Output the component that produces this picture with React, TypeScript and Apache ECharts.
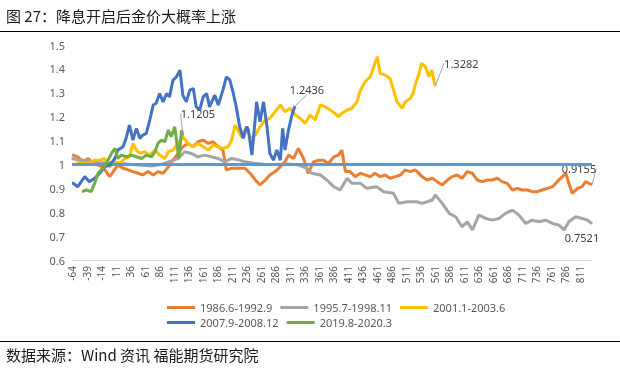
import React, { useEffect, useRef } from "react";
import * as echarts from "echarts";

const titleText = "图 27：降息开启后金价大概率上涨";
const sourceText = "数据来源：Wind 资讯 福能期货研究院";

const dayStart = -64;
const dayEnd = 832;
const categories: string[] = [];
for (let d = dayStart; d <= dayEnd; d++) categories.push(String(d));

const seriesNames = ["1986.6-1992.9", "1995.7-1998.11", "2001.1-2003.6", "2007.9-2008.12", "2019.8-2020.3"];
const seriesColors = ["#ED7D31", "#A5A5A5", "#FFC000", "#4472C4", "#70AD47"];

const orange8692: [number, number][] = [
  [-64, 1.04], [-62, 1.039], [-54, 1.032], [-45, 1.011], [-36, 1.025], [-28, 1.004], [-19, 0.997], [-11, 0.99], [-5, 0.97], [1, 0.949],
  [7, 0.97], [15, 0.997], [24, 0.984], [33, 0.977], [41, 0.97], [50, 0.963], [58, 0.956], [67, 0.97], [76, 0.956], [84, 0.97],
  [93, 0.963], [102, 0.99], [110, 1.018], [119, 1.046], [127, 1.074], [136, 1.088], [145, 1.074], [153, 1.095], [162, 1.102], [171, 1.088],
  [179, 1.095], [188, 1.074], [196, 1.06], [202, 0.977], [211, 0.984], [222, 0.984], [234, 0.984], [243, 0.963], [252, 0.935], [260, 0.914],
  [269, 0.935], [277, 0.956], [286, 0.97], [295, 0.99], [303, 1.011], [309, 1.039], [318, 1.025], [326, 1.067], [335, 1.025], [343, 0.963],
  [352, 1.011], [361, 1.018], [369, 1.018], [378, 1.004], [387, 1.032], [395, 1.039], [401, 1.06], [407, 0.97], [415, 0.97], [424, 0.949],
  [433, 0.963], [441, 0.956], [450, 0.949], [458, 0.963], [467, 0.949], [476, 0.956], [484, 0.942], [493, 0.949], [502, 0.956], [510, 0.977],
  [519, 0.97], [527, 0.977], [531, 0.97], [539, 0.949], [548, 0.935], [557, 0.942], [565, 0.928], [574, 0.914], [583, 0.935], [591, 0.949],
  [600, 0.956], [608, 0.942], [617, 0.97], [626, 0.963], [634, 0.935], [643, 0.928], [652, 0.935], [660, 0.935], [669, 0.942], [677, 0.928],
  [686, 0.921], [695, 0.893], [703, 0.9], [712, 0.893], [721, 0.893], [729, 0.886], [738, 0.886], [746, 0.893], [755, 0.9], [764, 0.907],
  [772, 0.928], [781, 0.949], [787, 0.963], [792, 0.921], [798, 0.879], [807, 0.9], [815, 0.907], [821, 0.928], [827, 0.921], [832, 0.9155],
];

const gray9598: [number, number][] = [
  [-64, 1.02], [-62, 1.025], [-54, 1.018], [-42, 1.018], [-31, 1.011], [-14, 1.007], [4, 1.007], [21, 1.004], [38, 1.0], [56, 0.997],
  [73, 0.993], [90, 1.0], [107, 1.015], [119, 1.025], [130, 1.053], [142, 1.046], [153, 1.032], [165, 1.039], [176, 1.032], [188, 1.025],
  [199, 1.011], [211, 1.025], [222, 1.02], [234, 1.011], [250, 1.005], [270, 1.0], [290, 1.0], [310, 1.002], [325, 0.998], [341, 0.984],
  [349, 0.963], [364, 0.956], [375, 0.935], [387, 0.907], [398, 0.893], [410, 0.942], [418, 0.921], [433, 0.921], [444, 0.9], [461, 0.907],
  [473, 0.886], [490, 0.879], [499, 0.837], [513, 0.844], [530, 0.844], [539, 0.837], [557, 0.851], [562, 0.872], [574, 0.837], [586, 0.795],
  [597, 0.781], [608, 0.739], [617, 0.76], [626, 0.726], [637, 0.788], [649, 0.774], [660, 0.767], [672, 0.774], [683, 0.795], [695, 0.809],
  [706, 0.788], [718, 0.753], [729, 0.767], [741, 0.76], [752, 0.767], [764, 0.753], [775, 0.746], [784, 0.726], [792, 0.76], [804, 0.781],
  [815, 0.774], [824, 0.767], [832, 0.7521],
];

const yellow0103: [number, number][] = [
  [-64, 1.0], [-50, 1.005], [-36, 1.004], [-25, 1.018], [-16, 1.018], [-8, 1.025], [1, 0.99], [10, 1.011], [18, 1.004], [27, 1.025],
  [35, 1.032], [41, 1.088], [47, 1.06], [53, 1.046], [61, 1.053], [70, 1.039], [79, 1.06], [87, 1.039], [96, 1.025], [102, 1.053],
  [110, 1.06], [119, 1.088], [127, 1.116], [136, 1.088], [145, 1.074], [153, 1.088], [162, 1.074], [171, 1.06], [179, 1.081], [188, 1.074],
  [196, 1.067], [205, 1.074], [211, 1.102], [217, 1.165], [222, 1.144], [228, 1.116], [237, 1.158], [243, 1.109], [252, 1.123], [260, 1.158],
  [269, 1.186], [277, 1.193], [286, 1.221], [295, 1.249], [303, 1.221], [312, 1.235], [321, 1.207], [329, 1.193], [338, 1.172], [346, 1.207],
  [355, 1.186], [364, 1.249], [372, 1.241], [381, 1.228], [389, 1.214], [395, 1.2], [401, 1.214], [410, 1.228], [418, 1.235], [427, 1.262],
  [433, 1.311], [441, 1.346], [450, 1.367], [458, 1.423], [462, 1.451], [467, 1.381], [476, 1.374], [484, 1.36], [490, 1.311], [496, 1.262],
  [505, 1.235], [510, 1.262], [519, 1.276], [524, 1.3], [528, 1.339], [534, 1.381], [538, 1.423], [545, 1.409], [551, 1.367], [556, 1.395],
  [560, 1.346], [562, 1.3282],
];

const blue0708: [number, number][] = [
  [-64, 0.92], [-62, 0.921], [-54, 0.907], [-42, 0.949], [-34, 0.928], [-25, 0.942], [-16, 0.963], [-8, 0.99], [1, 0.997], [10, 1.025],
  [15, 1.06], [24, 1.074], [30, 1.116], [35, 1.165], [41, 1.102], [47, 1.151], [53, 1.109], [58, 1.123], [64, 1.13], [70, 1.186],
  [76, 1.249], [81, 1.256], [87, 1.297], [93, 1.262], [99, 1.297], [104, 1.283], [110, 1.353], [116, 1.367], [122, 1.395], [127, 1.29],
  [133, 1.262], [139, 1.311], [145, 1.318], [150, 1.241], [156, 1.228], [162, 1.283], [168, 1.297], [173, 1.241], [182, 1.29], [188, 1.249],
  [196, 1.311], [202, 1.367], [208, 1.353], [214, 1.297], [219, 1.241], [225, 1.158], [231, 1.109], [237, 1.158], [240, 1.144], [246, 1.039],
  [252, 1.2], [254, 1.262], [260, 1.179], [266, 1.262], [272, 1.158], [277, 1.046], [283, 1.018], [289, 1.06], [295, 1.018], [299, 1.151],
  [303, 1.06], [309, 1.144], [315, 1.207], [320, 1.2436],
];

const green1920: [number, number][] = [
  [-47, 0.886], [-39, 0.893], [-31, 0.886], [-25, 0.921], [-19, 0.963], [-14, 0.977], [-8, 0.99], [-2, 1.018], [4, 1.046], [10, 1.067],
  [15, 1.025], [21, 1.039], [30, 1.032], [38, 1.039], [47, 1.032], [56, 1.025], [64, 1.039], [73, 1.032], [79, 1.053], [84, 1.088],
  [90, 1.102], [96, 1.095], [102, 1.144], [107, 1.116], [113, 1.158], [116, 1.102], [120, 1.025], [125, 1.144], [127, 1.1205],
];

const baseLevel = 1;

const allSeries = [orange8692, gray9598, yellow0103, blue0708, green1920];
const labelOffsets: [number, number][] = [[-13, -16], [-10, 14], [26, -23], [12, -17], [15, -22]];
const labelLines = [true, false, true, true, true];

function buildData(pts: [number, number][]) {
  return pts.map((p, i) => {
    const v = [p[0] - dayStart, p[1]];
    if (i === pts.length - 1) {
      return {
        value: v,
        symbol: "circle",
        symbolSize: 1,
        label: { show: true, formatter: String(p[1]) },
      };
    }
    return { value: v };
  });
}

export default function App() {
  const ref = useRef<HTMLDivElement>(null);
  useEffect(() => {
    if (!ref.current) return;
    const chart = echarts.init(ref.current, undefined, { renderer: "svg" });
    const numFont = "Noto Sans";
    const series: any[] = allSeries.map((pts, i) => ({
      name: seriesNames[i],
      type: "line",
      data: buildData(pts),
      symbol: "none",
      showSymbol: true,
      showAllSymbol: true,
      connectNulls: true,
      lineStyle: { color: seriesColors[i], width: 3 },
      itemStyle: { color: seriesColors[i] },
      label: {
        show: false,
        position: "inside",
        color: "#404040",
        fontSize: 11,
        fontFamily: numFont,
      },
      labelLayout: { dx: labelOffsets[i][0], dy: labelOffsets[i][1] },
      labelLine: { show: labelLines[i], lineStyle: { color: "#A6A6A6", width: 1 } },
      z: 2 + i,
    }));
    series[4].markLine = {
      silent: true,
      symbol: ["none", "none"],
      label: { show: false },
      lineStyle: { color: "#5B9BD5", width: 3, type: "solid" },
      data: [{ yAxis: baseLevel }],
    };
    const legendCommon = {
      left: 162,
      itemWidth: 28,
      itemHeight: 3,
      icon: "rect",
      itemGap: 8,
      textStyle: { fontSize: 11, color: "#595959", fontFamily: numFont, width: 70 },
    };
    chart.setOption({
      animation: false,
      title: [
        { text: titleText, left: 6, top: 8, padding: 0, textStyle: { fontSize: 15, fontWeight: "normal", color: "#1a1a1a", fontFamily: "Noto Sans CJK SC" } },
        { text: sourceText, left: 6, top: 347, padding: 0, textStyle: { fontSize: 15, fontWeight: "normal", color: "#1a1a1a", fontFamily: "Noto Sans CJK SC" } },
      ],
      graphic: [
        { type: "line", shape: { x1: 0, y1: 31.5, x2: 620, y2: 31.5 }, style: { stroke: "#000", lineWidth: 1 } },
        { type: "line", shape: { x1: 0, y1: 341.5, x2: 620, y2: 341.5 }, style: { stroke: "#000", lineWidth: 1 } },
      ],
      legend: [
        { ...legendCommon, top: 297, data: seriesNames.slice(0, 3) },
        { ...legendCommon, top: 312, data: seriesNames.slice(3) },
      ],
      grid: { left: 72, right: 28, top: 45, bottom: 109 },
      xAxis: {
        type: "category",
        data: categories,
        boundaryGap: false,
        axisLine: { lineStyle: { color: "#D9D9D9", width: 1 } },
        axisTick: { show: false },
        axisLabel: { interval: 24, rotate: 90, fontSize: 10, color: "#595959", fontFamily: numFont, margin: 6 },
        splitLine: { show: false },
      },
      yAxis: {
        type: "value",
        min: 0.6,
        max: 1.5,
        interval: 0.1,
        axisLine: { show: false },
        axisTick: { show: false },
        splitLine: { show: false },
        axisLabel: {
          fontSize: 11,
          color: "#595959",
          fontFamily: numFont,
          margin: 7,
          formatter: (v: number) => String(Math.round(v * 10) / 10),
        },
      },
      series,
    });
    return () => chart.dispose();
  }, []);
  return <div ref={ref} style={{ position: "fixed", left: 0, top: 0, width: 620, height: 369 }} />;
}
